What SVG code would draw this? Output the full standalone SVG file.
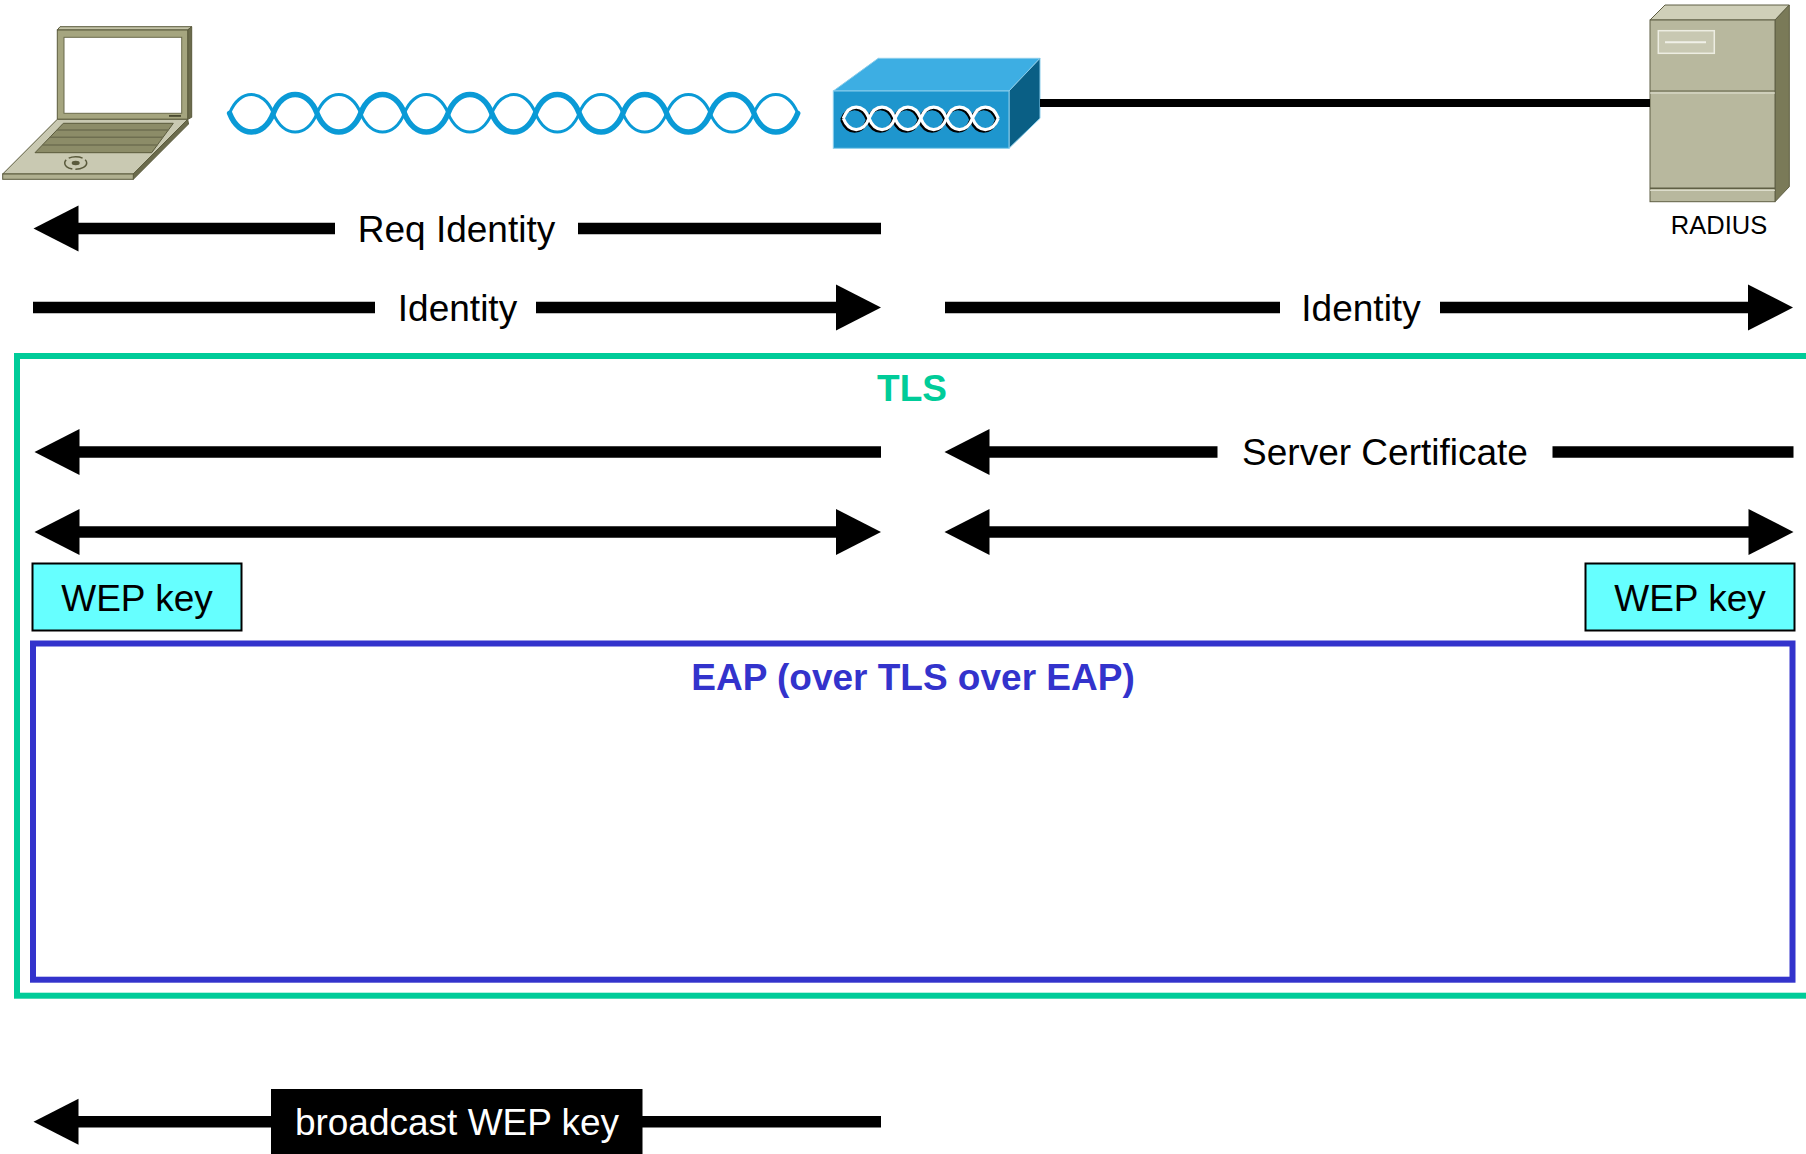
<svg xmlns="http://www.w3.org/2000/svg" width="1806" height="1154" viewBox="0 0 1806 1154">
  <style>
    .lbl { font-family: "Liberation Sans", Arial, sans-serif; font-size: 37px; fill: #000; text-anchor: middle; }
    .ttl { font-family: "Liberation Sans", Arial, sans-serif; font-size: 37px; font-weight: bold; text-anchor: middle; }
    .shaft { stroke: #000; stroke-width: 11.5; fill: none; }
    .key { fill: #66FFFF; stroke: #000; stroke-width: 2; }
    .olive { stroke: #5A5A3C; stroke-width: 1; }
  </style>
  <defs>
    <!-- arrowhead with its tip at the origin, pointing left -->
    <path id="head" d="M0,0 L45,-23 L45,23 Z" fill="#000"/>
    <!-- small helix strands printed on the access point -->
    <path id="ap-a" d="M843.3,118.3 C849,133.3 863.4,133.3 869.1,118.3 C874.8,103.3 889.3,103.3 895,118.3 C900.7,133.3 915.1,133.3 920.8,118.3 C926.5,103.3 940.9,103.3 946.6,118.3 C952.3,133.3 966.8,133.3 972.5,118.3 C978.2,103.3 992.6,103.3 998.3,118.3"/>
    <path id="ap-b" d="M843.3,118.3 C849,103.3 863.4,103.3 869.1,118.3 C874.8,133.3 889.3,133.3 895,118.3 C900.7,103.3 915.1,103.3 920.8,118.3 C926.5,133.3 940.9,133.3 946.6,118.3 C952.3,103.3 966.8,103.3 972.5,118.3 C978.2,133.3 992.6,133.3 998.3,118.3"/>
  </defs>

  <rect width="1806" height="1154" fill="#fff"/>

  <!-- laptop -->
  <g id="laptop">
    <polygon points="57.3,30 60,26.7 191.7,26.7 187.7,30" fill="#C4C4A8" class="olive"/>
    <polygon points="187.7,30 191.7,26.7 191.7,117.3 187.7,119.3" fill="#6B6B4C" class="olive"/>
    <rect x="57.3" y="30" width="130.4" height="89.3" fill="#A5A57F" class="olive"/>
    <rect x="64" y="37.3" width="117.7" height="76" fill="#fff" stroke="#6B6B4C" stroke-width="1"/>
    <rect x="169" y="115" width="12" height="1.8" fill="#4A4A30"/>
    <polygon points="57.3,119.3 187.7,119.3 133.3,174 2.7,174" fill="#C9C9B2" class="olive"/>
    <polygon points="187.7,119.3 188.5,124 133.3,179.3 133.3,174" fill="#6B6B4C" class="olive"/>
    <rect x="2.7" y="174" width="130.6" height="5.3" fill="#B0B090" class="olive"/>
    <polygon points="63.3,123.3 173.3,123.3 151.7,152.7 35,152.7" fill="#8C8C68" class="olive"/>
    <g stroke="#6E6E50" stroke-width="1.5">
      <line x1="56.9" y1="130" x2="168.4" y2="130"/>
      <line x1="49.8" y1="137.3" x2="163" y2="137.3"/>
      <line x1="42.4" y1="145" x2="157.4" y2="145"/>
    </g>
    <ellipse cx="75.7" cy="163" rx="11" ry="6.3" fill="none" stroke="#5A5A3C" stroke-width="1.5" stroke-dasharray="14 3"/>
    <ellipse cx="75.7" cy="163" rx="4" ry="2.2" fill="#5A5A3C"/>
  </g>

  <!-- access point -->
  <g id="access-point">
    <polygon points="833.3,91 878.3,58.3 1040,58.3 1009,91" fill="#3DAEE3" stroke="#8ACDEB" stroke-width="1"/>
    <polygon points="1009,91 1040,58.3 1040,118.3 1009,148.3" fill="#0A5F85" stroke="#8ACDEB" stroke-width="1"/>
    <rect x="833.3" y="91" width="175.7" height="57.3" fill="#1E96CE" stroke="#8ACDEB" stroke-width="1"/>
    <g fill="none" stroke-width="3.2">
      <g stroke="#000" transform="translate(-1.6,1.6)">
        <use href="#ap-a"/>
        <use href="#ap-b"/>
      </g>
      <g stroke="#fff">
        <use href="#ap-a"/>
        <use href="#ap-b"/>
      </g>
    </g>
  </g>

  <!-- RADIUS server -->
  <g id="radius-server">
    <polygon points="1650,20 1665,5 1789.3,5 1775,20" fill="#CFCFB8" stroke="#5F5F44" stroke-width="1"/>
    <polygon points="1775,20 1789.3,5 1789.3,186.7 1775,201.7" fill="#7A7A58" stroke="#5F5F44" stroke-width="1"/>
    <rect x="1650" y="20" width="125" height="181.7" fill="#B8B89E" stroke="#5F5F44" stroke-width="1"/>
    <line x1="1650" y1="91" x2="1775" y2="91" stroke="#5F5F44" stroke-width="1.2"/>
    <line x1="1650" y1="93" x2="1775" y2="93" stroke="#E6E6D8" stroke-width="1.2"/>
    <line x1="1650" y1="188.3" x2="1775" y2="188.3" stroke="#5F5F44" stroke-width="1.5"/>
    <line x1="1650" y1="190.3" x2="1775" y2="190.3" stroke="#E6E6D8" stroke-width="1"/>
    <rect x="1658.3" y="30.7" width="56" height="22.6" fill="#C8C8B2" stroke="#EDEDE2" stroke-width="1.5"/>
    <line x1="1665" y1="42.3" x2="1706" y2="42.3" stroke="#F0F0E8" stroke-width="2"/>
    <text x="1719" y="234" font-family="'Liberation Sans', Arial, sans-serif" font-size="25.5" text-anchor="middle">RADIUS</text>
  </g>

  <!-- TLS tunnel frame -->
  <g id="tls">
    <rect x="17" y="356" width="1800" height="639.7" fill="none" stroke="#00CC99" stroke-width="6"/>
    <text class="ttl" x="912" y="401" fill="#00CC99">TLS</text>
  </g>

  <!-- inner EAP frame -->
  <g id="eap">
    <rect x="33" y="643.5" width="1759.5" height="336.2" fill="none" stroke="#3333CC" stroke-width="6"/>
    <text class="ttl" x="913" y="690" fill="#3333CC">EAP (over TLS over EAP)</text>
  </g>

  <!-- WEP key holders -->
  <g id="wep-key-client">
    <rect class="key" x="32.5" y="563.5" width="209" height="67"/>
    <text class="lbl" x="137" y="611">WEP key</text>
  </g>
  <g id="wep-key-server">
    <rect class="key" x="1585.5" y="563.5" width="209" height="67"/>
    <text class="lbl" x="1690" y="611">WEP key</text>
  </g>

  <!-- links and message arrows -->
  <g id="connectors">
    <!-- radio link -->
    <g fill="none" stroke="#0A9AD6" stroke-linecap="round">
      <path stroke-width="5.5" d="M229.6,113.3 C239.2,138.3 263.7,138.3 273.3,113.3 C282.9,88.3 307.4,88.3 317,113.3 C326.6,138.3 351.1,138.3 360.7,113.3 C370.3,88.3 394.8,88.3 404.4,113.3 C414,138.3 438.5,138.3 448.1,113.3 C457.7,88.3 482.2,88.3 491.8,113.3 C501.4,138.3 525.9,138.3 535.5,113.3 C545.1,88.3 569.6,88.3 579.2,113.3 C588.8,138.3 613.3,138.3 622.9,113.3 C632.5,88.3 657,88.3 666.6,113.3 C676.2,138.3 700.7,138.3 710.3,113.3 C719.9,88.3 744.4,88.3 754,113.3 C763.6,138.3 788.1,138.3 797.7,113.3"/>
      <path stroke-width="3" d="M229.6,113.3 C239.2,88.3 263.7,88.3 273.3,113.3 C282.9,138.3 307.4,138.3 317,113.3 C326.6,88.3 351.1,88.3 360.7,113.3 C370.3,138.3 394.8,138.3 404.4,113.3 C414,88.3 438.5,88.3 448.1,113.3 C457.7,138.3 482.2,138.3 491.8,113.3 C501.4,88.3 525.9,88.3 535.5,113.3 C545.1,138.3 569.6,138.3 579.2,113.3 C588.8,88.3 613.3,88.3 622.9,113.3 C632.5,138.3 657,138.3 666.6,113.3 C676.2,88.3 700.7,88.3 710.3,113.3 C719.9,138.3 744.4,138.3 754,113.3 C763.6,88.3 788.1,88.3 797.7,113.3"/>
    </g>
    <!-- wired link -->
    <line x1="1040" y1="103" x2="1650" y2="103" stroke="#000" stroke-width="8"/>

    <!-- Req Identity -->
    <use href="#head" transform="translate(33.5,228.5)"/>
    <line class="shaft" x1="78" y1="228.5" x2="335" y2="228.5"/>
    <line class="shaft" x1="578" y1="228.5" x2="881" y2="228.5"/>
    <text class="lbl" x="456.5" y="242">Req Identity</text>

    <!-- Identity, client to AP -->
    <line class="shaft" x1="33" y1="307.5" x2="375" y2="307.5"/>
    <line class="shaft" x1="536" y1="307.5" x2="837" y2="307.5"/>
    <use href="#head" transform="translate(881,307.5) scale(-1,1)"/>
    <text class="lbl" x="457.5" y="321">Identity</text>

    <!-- Identity, AP to server -->
    <line class="shaft" x1="945" y1="307.5" x2="1280" y2="307.5"/>
    <line class="shaft" x1="1440" y1="307.5" x2="1749" y2="307.5"/>
    <use href="#head" transform="translate(1793,307.5) scale(-1,1)"/>
    <text class="lbl" x="1361" y="321">Identity</text>

    <!-- server certificate, relayed -->
    <use href="#head" transform="translate(34.5,452)"/>
    <line class="shaft" x1="78" y1="452" x2="881" y2="452"/>
    <use href="#head" transform="translate(944.5,452)"/>
    <line class="shaft" x1="988" y1="452" x2="1217.5" y2="452"/>
    <line class="shaft" x1="1552.5" y1="452" x2="1793.5" y2="452"/>
    <text class="lbl" x="1385" y="465">Server Certificate</text>

    <!-- two-way exchanges -->
    <use href="#head" transform="translate(34.5,532)"/>
    <line class="shaft" x1="78" y1="532" x2="838" y2="532"/>
    <use href="#head" transform="translate(881,532) scale(-1,1)"/>
    <use href="#head" transform="translate(944.5,532)"/>
    <line class="shaft" x1="988" y1="532" x2="1750" y2="532"/>
    <use href="#head" transform="translate(1793.5,532) scale(-1,1)"/>

    <!-- broadcast WEP key -->
    <use href="#head" transform="translate(33.5,1121.7)"/>
    <line class="shaft" x1="78" y1="1121.7" x2="881" y2="1121.7"/>
    <rect x="271" y="1089" width="371.5" height="70" fill="#000"/>
    <text class="lbl" x="457" y="1135" style="fill:#fff">broadcast WEP key</text>
  </g>
</svg>
